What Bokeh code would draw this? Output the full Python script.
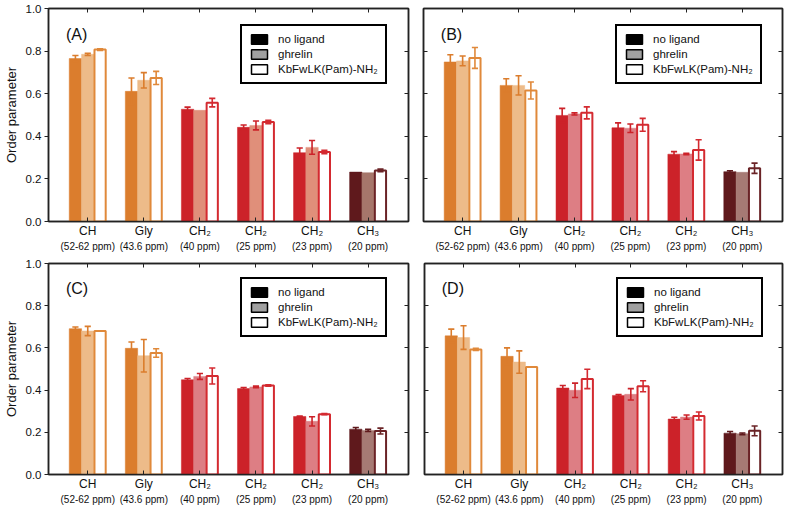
from bokeh.plotting import figure
from bokeh.models import (FixedTicker, LinearAxis, Range1d, Label, Legend, LegendItem,
                          CustomJSTickFormatter, NumeralTickFormatter)
from bokeh.layouts import column, row
from bokeh.embed import file_html
from bokeh.resources import INLINE

categories = ["CH", "Gly", "CH\u2082", "CH\u2082", "CH\u2082", "CH\u2083"]
shifts = ["(52-62 ppm)", "(43.6 ppm)", "(40 ppm)", "(25 ppm)", "(23 ppm)", "(20 ppm)"]
series_names = ["no ligand", "ghrelin", "KbFwLK(Pam)-NH\u2082"]
y_ticks = [0.0, 0.2, 0.4, 0.6, 0.8, 1.0]

# Panel A
a_nolig = [0.765, 0.611, 0.527, 0.442, 0.323, 0.232]
a_nolig_err = [0.014, 0.063, 0.010, 0.011, 0.022, 0.0]
a_ghr = [0.785, 0.663, 0.522, 0.451, 0.348, 0.229]
a_ghr_err = [0.005, 0.036, 0.0, 0.021, 0.032, 0.0]
a_kb = [0.807, 0.674, 0.558, 0.467, 0.326, 0.240]
a_kb_err = [0.004, 0.031, 0.020, 0.008, 0.008, 0.006]

# Panel B
b_nolig = [0.749, 0.639, 0.498, 0.440, 0.316, 0.234]
b_nolig_err = [0.034, 0.031, 0.033, 0.023, 0.012, 0.004]
b_ghr = [0.754, 0.639, 0.505, 0.438, 0.317, 0.231]
b_ghr_err = [0.023, 0.045, 0.005, 0.020, 0.003, 0.0]
b_kb = [0.768, 0.615, 0.510, 0.454, 0.336, 0.250]
b_kb_err = [0.049, 0.040, 0.028, 0.030, 0.048, 0.024]

# Panel C
c_nolig = [0.691, 0.598, 0.449, 0.407, 0.275, 0.215]
c_nolig_err = [0.008, 0.030, 0.006, 0.005, 0.002, 0.008]
c_ghr = [0.680, 0.563, 0.465, 0.415, 0.252, 0.209]
c_ghr_err = [0.022, 0.077, 0.014, 0.004, 0.022, 0.005]
c_kb = [0.680, 0.576, 0.467, 0.422, 0.286, 0.206]
c_kb_err = [0.0, 0.020, 0.038, 0.003, 0.003, 0.014]

# Panel D
d_nolig = [0.657, 0.560, 0.410, 0.375, 0.263, 0.196]
d_nolig_err = [0.032, 0.040, 0.012, 0.004, 0.008, 0.008]
d_ghr = [0.649, 0.533, 0.399, 0.380, 0.272, 0.193]
d_ghr_err = [0.056, 0.053, 0.034, 0.027, 0.010, 0.004]
d_kb = [0.593, 0.509, 0.453, 0.418, 0.277, 0.207]
d_kb_err = [0.005, 0.0, 0.046, 0.026, 0.019, 0.023]

dark = ["#DB7D2D", "#DB7D2D", "#CC2229", "#CC2229", "#CC2229", "#5F191C"]
light_a = ["#EDBB89", "#EDBB89", "#E08F7A", "#E08F7A", "#E08F7A", "#A6766B"]
light_bcd = ["#EDBB89", "#EDBB89", "#DD7E84", "#DD7E84", "#DD7E84", "#A67A74"]
outline = ["#E0893A", "#E0893A", "#D42A30", "#D42A30", "#D42A30", "#6A2326"]
legend_fills = ["#000000", "#A0A0A0", "#FFFFFF"]

FONT = "Liberation Sans"
BW = 0.22
CAP = 0.055
NAN = float("nan")


def empty_formatter():
    return CustomJSTickFormatter(code="return ''")


def make_panel(tag, nolig, nolig_err, ghr, ghr_err, kb, kb_err, light, show_y,
               width, height, bl, br, bt, bb):
    p = figure(width=width, height=height, x_range=Range1d(-0.7, 5.72),
               y_range=Range1d(0, 1.0), output_backend="svg", toolbar_location=None,
               min_border_left=bl, min_border_right=br, min_border_top=bt,
               min_border_bottom=bb, background_fill_color="white")
    p.xgrid.visible = False
    p.ygrid.visible = False
    p.outline_line_color = "#222222"
    p.outline_line_width = 1.5
    idx = list(range(len(categories)))

    xs = [[i - BW for i in idx], idx, [i + BW for i in idx]]
    vals = [nolig, ghr, kb]
    errs = [nolig_err, ghr_err, kb_err]
    p.vbar(x=xs[0], top=nolig, width=BW, fill_color=dark, line_color=dark, line_width=0.5)
    p.vbar(x=xs[1], top=ghr, width=BW, fill_color=light, line_color=light, line_width=0.5)
    p.vbar(x=xs[2], top=kb, width=BW - 0.02, fill_color="white", line_color=outline, line_width=2)

    # error bars
    ex, ylo, yhi, ec = [], [], [], []
    for s in range(3):
        for i in idx:
            e = errs[s][i]
            if e > 0:
                ex.append(xs[s][i])
                ylo.append(vals[s][i] - e)
                yhi.append(vals[s][i] + e)
                ec.append(outline[i] if s == 2 else dark[i])
    p.segment(x0=ex, y0=ylo, x1=ex, y1=yhi, line_color=ec, line_width=1.6)
    p.segment(x0=[x - CAP for x in ex], y0=yhi, x1=[x + CAP for x in ex], y1=yhi,
              line_color=ec, line_width=1.6)
    p.segment(x0=[x - CAP for x in ex], y0=ylo, x1=[x + CAP for x in ex], y1=ylo,
              line_color=ec, line_width=1.6)

    # legend (swatch renderers hold no visible data)
    items = []
    for name, fc in zip(series_names, legend_fills):
        r = p.vbar(x=[NAN], top=[NAN], width=0.2, fill_color=fc, line_color="#000000",
                   line_width=1.5)
        items.append(LegendItem(label=name, renderers=[r]))
    legend = Legend(items=items, location=(192, 137),
                    border_line_color="#000000", border_line_width=2, border_line_alpha=1.0,
                    glyph_width=20, glyph_height=12, label_height=12, spacing=3,
                    padding=7, margin=0, label_standoff=9,
                    label_text_font=FONT, label_text_font_size="11.5px",
                    label_text_color="#111111",
                    background_fill_color="white", background_fill_alpha=1.0)
    p.add_layout(legend)

    p.add_layout(Label(x=-0.39, y=0.88, text=tag, text_font=FONT, text_font_size="16px",
                       text_baseline="middle", text_color="#111111"))

    # bottom axes
    xax = p.xaxis[0]
    xax.ticker = FixedTicker(ticks=idx)
    xax.major_label_overrides = {i: categories[i] for i in idx}
    xax.major_tick_in = 4
    xax.major_tick_out = 0
    xax.minor_tick_line_color = None
    xax.major_label_standoff = 2
    xax.major_label_text_font = FONT
    xax.major_label_text_font_size = "12px"
    xax.major_label_text_color = "#111111"
    xax.axis_line_width = 1.5
    xax.axis_line_color = "#222222"
    xax.major_tick_line_color = "#222222"

    ax2 = LinearAxis(ticker=FixedTicker(ticks=idx),
                     major_label_overrides={i: shifts[i] for i in idx},
                     axis_line_color=None, major_tick_line_color=None,
                     minor_tick_line_color=None, major_label_standoff=0,
                     major_tick_in=0, major_tick_out=0,
                     major_label_text_font=FONT, major_label_text_font_size="10px",
                     major_label_text_color="#111111")
    p.add_layout(ax2, "below")

    top = LinearAxis(ticker=FixedTicker(ticks=idx), formatter=empty_formatter(),
                     major_tick_in=4, major_tick_out=0, minor_tick_line_color=None,
                     major_label_standoff=0, axis_line_width=1.5, axis_line_color="#222222",
                     major_tick_line_color="#222222")
    p.add_layout(top, "above")

    right = LinearAxis(ticker=FixedTicker(ticks=y_ticks), formatter=empty_formatter(),
                       major_tick_in=4, major_tick_out=0, minor_tick_line_color=None,
                       major_label_standoff=0, axis_line_width=1.5, axis_line_color="#222222",
                       major_tick_line_color="#222222")
    p.add_layout(right, "right")

    yax = p.yaxis[0]
    yax.ticker = FixedTicker(ticks=y_ticks)
    yax.minor_tick_line_color = None
    yax.axis_line_width = 1.5
    yax.axis_line_color = "#222222"
    yax.major_tick_line_color = "#222222"
    if show_y:
        yax.formatter = NumeralTickFormatter(format="0.0")
        yax.major_tick_in = 0
        yax.major_tick_out = 4
        yax.major_label_standoff = 3
        yax.major_label_text_font = FONT
        yax.major_label_text_font_size = "11.5px"
        yax.major_label_text_color = "#111111"
        yax.axis_label = "Order parameter"
        yax.axis_label_text_font = FONT
        yax.axis_label_text_font_size = "13px"
        yax.axis_label_text_font_style = "normal"
        yax.axis_label_text_color = "#111111"
        yax.axis_label_standoff = 4
    else:
        yax.formatter = empty_formatter()
        yax.major_tick_in = 4
        yax.major_tick_out = 0
        yax.major_label_standoff = 0
    return p


pA = make_panel("(A)", a_nolig, a_nolig_err, a_ghr, a_ghr_err, a_kb, a_kb_err, light_a, True,
                415, 254, 48, 7, 8, 33)
pB = make_panel("(B)", b_nolig, b_nolig_err, b_ghr, b_ghr_err, b_kb, b_kb_err, light_bcd, False,
                372, 254, 8, 5, 8, 33)
pC = make_panel("(C)", c_nolig, c_nolig_err, c_ghr, c_ghr_err, c_kb, c_kb_err, light_bcd, True,
                415, 254, 48, 7, 9, 34)
pD = make_panel("(D)", d_nolig, d_nolig_err, d_ghr, d_ghr_err, d_kb, d_kb_err, light_bcd, False,
                372, 254, 9, 5, 9, 34)

layout = column(row(pA, pB), row(pC, pD))
open("out.html", "w").write(file_html(layout, INLINE))
